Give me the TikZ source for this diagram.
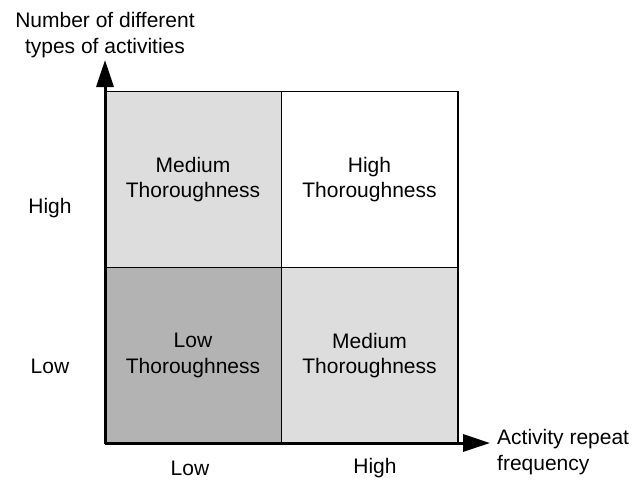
\documentclass[tikz,border=0pt]{standalone}
\usepackage{fontspec}
\setmainfont{Liberation Sans}
\usetikzlibrary{arrows.meta}
\definecolor{cellmid}{HTML}{DDDDDD}
\definecolor{celllow}{HTML}{B3B3B3}
\begin{document}
\begin{tikzpicture}[x=1pt,y=-1pt,
  every node/.style={font=\fontsize{21}{25.5}\selectfont, inner sep=0pt, align=center},
  cell/.style={draw=black, line width=1.5pt, minimum width=176.5pt, minimum height=176pt, anchor=center},
  axis/.style={line width=3pt, -{Triangle[length=27pt,width=17pt]}}]
\useasboundingbox (0,0) rectangle (634,479);
% the four quadrants
\node[cell, fill=cellmid] (tl) at (193,179.5) {Medium\\Thoroughness};
\node[cell, fill=white]   (tr) at (369.5,179.5) {High\\Thoroughness};
\node[cell, fill=celllow] (bl) at (193,355.5) {Low\\Thoroughness};
\node[cell, fill=cellmid] (br) at (369.5,355.5) {Medium\\Thoroughness};
% axes
\coordinate (o) at (105,443);
\coordinate (ytip) at (105,60);
\coordinate (xtip) at (490,443);
\draw[axis] (o) -- (ytip);
\draw[axis] (o) -- (xtip);
% axis titles
\node (ytitle) at (105,35) {Number of different\\types of activities};
\node[align=left, anchor=west] (xtitle) at (497,452) {Activity repeat\\frequency};
% level labels
\node (yhigh) at (50,208) {High};
\node (ylow) at (50,366) {Low};
\node (xlow) at (190,468) {Low};
\node (xhigh) at (375,468) {High};
\end{tikzpicture}
\end{document}
